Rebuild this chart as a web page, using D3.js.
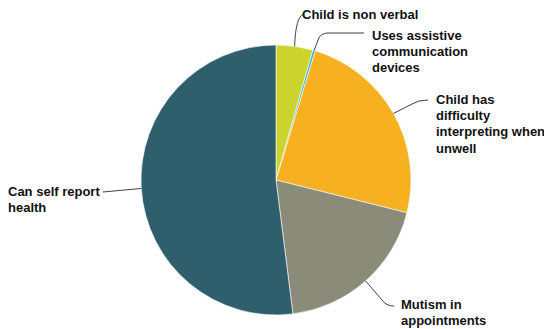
<!DOCTYPE html>
<html><head><meta charset="utf-8">
<script src="https://cdn.jsdelivr.net/npm/d3@7/dist/d3.min.js"></script>
<style>html,body{margin:0;padding:0;background:#fff;}</style>
</head><body>
<script>
const categories = ["Child is non verbal","Uses assistive communication devices","Child has difficulty interpreting when unwell","Mutism in appointments","Can self report health"];
const values = [4.4, 0.3, 24.2, 19.1, 52.0];
const colors = ["#cad42d","#35b2cf","#f7b01f","#8a8b79","#2f5f6d"];
const labelLines = [["Child is non verbal"],["Uses assistive","communication","devices"],["Child has","difficulty","interpreting when","unwell"],["Mutism in","appointments"],["Can self report","health"]];

const W=544,H=329,cx=276,cy=180,R=135;
const svg=d3.select("body").append("svg").attr("width",W).attr("height",H);
const g=svg.append("g").attr("transform",`translate(${cx},${cy})`);
const pie=d3.pie().sort(null).value(d=>d);
const arcs=pie(values);
const arc=d3.arc().innerRadius(0).outerRadius(R);
g.selectAll("path.slice").data(arcs).join("path").attr("class","slice")
 .attr("d",arc).attr("fill",(d,i)=>colors[i]).attr("stroke","#fff").attr("stroke-width",0.6);

const lbl=[
 {x:302,y:14.5, path:(s)=>`M${s[0]},${s[1]} Q${s[0]+1},${17} ${s[0]+9},14`},
 {x:372,y:35, path:(s)=>`M${s[0]},${s[1]} L${s[0]+4},40 Q${s[0]+6},33 ${s[0]+14},33 L364,33`},
 {x:436,y:99.5, path:(s)=>`M${s[0]},${s[1]} L412,104 Q418,100 428,100`},
 {x:401,y:304.5, path:(s)=>`M${s[0]},${s[1]} L382,300 Q386,306 394,306`},
 {x:8,y:191, path:(s)=>`M${s[0]},${s[1]} L103,192`}
];
const lineH=16.2;
arcs.forEach((a,i)=>{
  const m=(a.startAngle+a.endAngle)/2;
  const s=[cx+R*Math.sin(m), cy-R*Math.cos(m)];
  svg.append("path").attr("d",lbl[i].path(s)).attr("fill","none").attr("stroke","#404040").attr("stroke-width",1);
  const t=svg.append("text").attr("font-family","Liberation Sans, Arial, sans-serif").attr("font-weight","bold").attr("font-size",13).attr("fill","#111");
  labelLines[i].forEach((ln,j)=>{
    t.append("tspan").attr("x",lbl[i].x).attr("y",lbl[i].y+j*lineH).attr("dy","0.35em").text(ln);
  });
});
</script>
</body></html>
